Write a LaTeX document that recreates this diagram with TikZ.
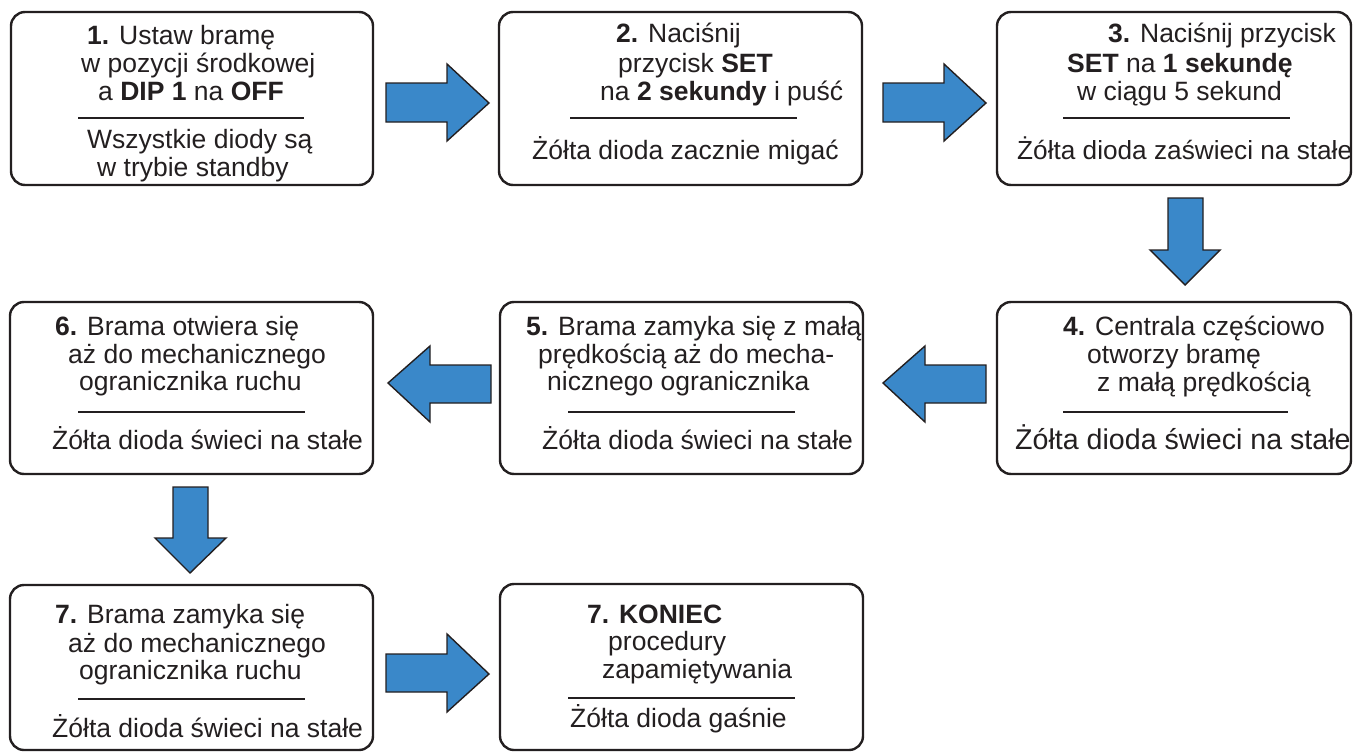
\documentclass[tikz,border=0pt]{standalone}
\usepackage{fontspec}
\setmainfont{Liberation Sans}
\definecolor{ink}{HTML}{231F20}
\definecolor{arrowblue}{HTML}{3A88C9}
\tikzset{
  box/.style={draw=ink, line width=2.4pt, rounded corners=14pt, inner sep=0pt, fill=white},
  sep/.style={draw=ink, line width=2pt},
  blockarrow/.style={draw=ink, fill=arrowblue, line width=1.4pt, line join=miter},
  txt/.style={anchor=base west, inner sep=0pt, text=ink, font=\fontsize{26.5}{28}\selectfont},
}
\begin{document}
\begin{tikzpicture}[x=1pt,y=-1pt]
\useasboundingbox (0,0) rectangle (1354,752);
% boxes
\node[box, minimum width=362pt, minimum height=173pt] (b1) at (192,98.5) {};
\node[box, minimum width=363pt, minimum height=173pt] (b2) at (680.5,98.5) {};
\node[box, minimum width=354pt, minimum height=173pt] (b3) at (1174,98.5) {};
\node[box, minimum width=363pt, minimum height=172pt] (b6) at (191.5,388) {};
\node[box, minimum width=363pt, minimum height=172pt] (b5) at (681.5,388) {};
\node[box, minimum width=354pt, minimum height=172pt] (b4) at (1174,388) {};
\node[box, minimum width=363pt, minimum height=165pt] (b7) at (191.5,667.5) {};
\node[box, minimum width=363pt, minimum height=166pt] (b8) at (681.5,667) {};

% box 1
\node[txt] (t11) at (87,45) {\textbf{1.} Ustaw bramę};
\node[txt] (t12) at (81,73) {w pozycji środkowej};
\node[txt] (t13) at (98,100) {a \textbf{DIP 1} na \textbf{OFF}};
\draw[sep] (78,118) -- (304,118);
\node[txt] (t14) at (87,148) {Wszystkie diody są};
\node[txt] (t15) at (97,176) {w trybie standby};

% box 2
\node[txt] (t21) at (616,43) {\textbf{2.} Naciśnij};
\node[txt] (t22) at (618,73) {przycisk \textbf{SET}};
\node[txt] (t23) at (600,100) {na \textbf{2 sekundy} i puść};
\draw[sep] (570,118) -- (797,118);
\node[txt] (t24) at (532,159) {Żółta dioda zacznie migać};

% box 3
\node[txt] (t31) at (1108,43) {\textbf{3.} Naciśnij przycisk};
\node[txt] (t32) at (1067,73) {\textbf{SET} na \textbf{1 sekundę}};
\node[txt] (t33) at (1077,100) {w ciągu 5 sekund};
\draw[sep] (1063,118) -- (1290,118);
\node[txt, font=\fontsize{26.2}{28}\selectfont] (t34) at (1017,159) {Żółta dioda zaświeci na stałe};

% box 4
\node[txt] (t41) at (1063,335) {\textbf{4.} Centrala częściowo};
\node[txt] (t42) at (1087,363) {otworzy bramę};
\node[txt] (t43) at (1097,391) {z małą prędkością};
\draw[sep] (1063,412) -- (1288,412);
\node[txt, font=\fontsize{28.6}{30}\selectfont] (t44) at (1015,449) {Żółta dioda świeci na stałe};

% box 5
\node[txt] (t51) at (526,335) {\textbf{5.} Brama zamyka się z małą};
\node[txt] (t52) at (538,363) {prędkością aż do mecha-};
\node[txt] (t53) at (547,390) {nicznego ogranicznika};
\draw[sep] (568,412) -- (795,412);
\node[txt] (t54) at (542,449) {Żółta dioda świeci na stałe};

% box 6
\node[txt] (t61) at (55,335) {\textbf{6.} Brama otwiera się};
\node[txt] (t62) at (68,363) {aż do mechanicznego};
\node[txt] (t63) at (79,390) {ogranicznika ruchu};
\draw[sep] (78,412) -- (305,412);
\node[txt] (t64) at (52,449) {Żółta dioda świeci na stałe};

% box 7
\node[txt] (t71) at (55,623) {\textbf{7.} Brama zamyka się};
\node[txt] (t72) at (68,652) {aż do mechanicznego};
\node[txt] (t73) at (79,679) {ogranicznika ruchu};
\draw[sep] (78,699) -- (305,699);
\node[txt] (t74) at (52,737) {Żółta dioda świeci na stałe};

% box 8
\node[txt] (t81) at (587,623) {\textbf{7. KONIEC}};
\node[txt] (t82) at (608,650) {procedury};
\node[txt] (t83) at (602,678) {zapamiętywania};
\draw[sep] (568,698) -- (795,698);
\node[txt] (t84) at (570,727) {Żółta dioda gaśnie};

% block arrows
\draw[blockarrow] (386,83) -- (447,83) -- (447,64) -- (489,103) -- (447,141) -- (447,122) -- (386,122) -- cycle;
\draw[blockarrow] (883,83) -- (944,83) -- (944,64) -- (986,103) -- (944,141) -- (944,122) -- (883,122) -- cycle;
\draw[blockarrow] (1168,198) -- (1203,198) -- (1203,250) -- (1220,250) -- (1185,285) -- (1150,250) -- (1168,250) -- cycle;
\draw[blockarrow] (986,365) -- (925,365) -- (925,346) -- (883,383) -- (925,422) -- (925,403) -- (986,403) -- cycle;
\draw[blockarrow] (491,365) -- (430,365) -- (430,346) -- (388,383) -- (430,422) -- (430,403) -- (491,403) -- cycle;
\draw[blockarrow] (173,487) -- (208,487) -- (208,538) -- (226,538) -- (190,573) -- (155,538) -- (173,538) -- cycle;
\draw[blockarrow] (386,654) -- (447,654) -- (447,634) -- (489,674) -- (447,712) -- (447,692) -- (386,692) -- cycle;
\end{tikzpicture}
\end{document}
